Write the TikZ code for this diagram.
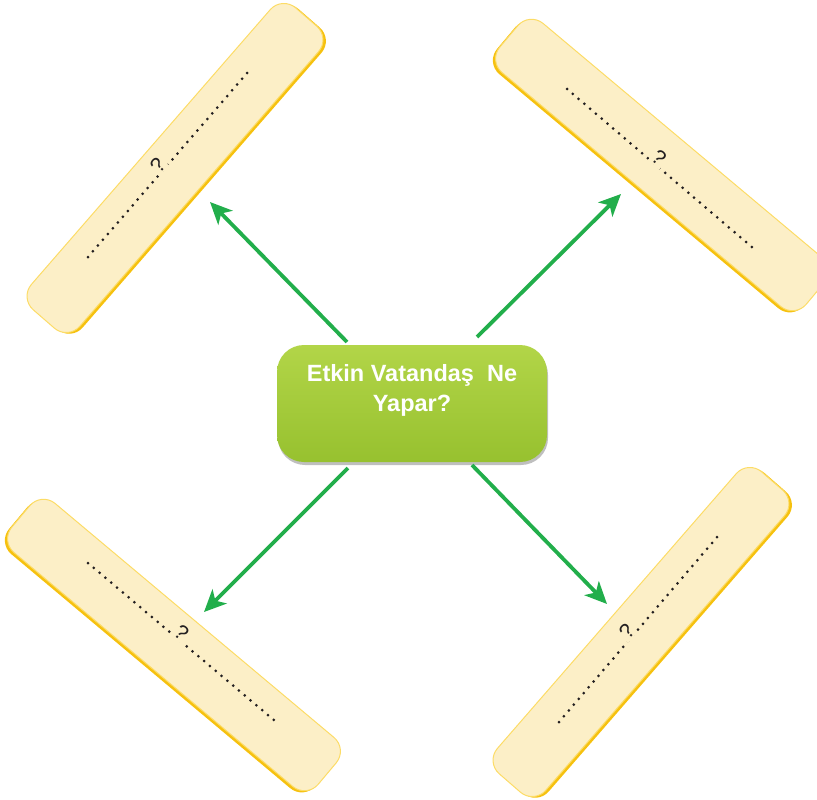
\documentclass[tikz,border=0pt]{standalone}
\usepackage{fontspec}
\setmainfont{Liberation Sans}
\usetikzlibrary{arrows.meta,calc}
\definecolor{cream}{HTML}{FCEFC7}
\definecolor{rimlight}{HTML}{FCDC66}
\definecolor{rimdark}{HTML}{F6C10F}
\definecolor{greentop}{HTML}{B2D548}
\definecolor{greenbot}{HTML}{97C12F}
\definecolor{arrowgreen}{HTML}{22AE4B}
\definecolor{dotcol}{HTML}{231F20}
\tikzset{
  stickshadow/.style={rectangle, minimum width=400pt, minimum height=64pt, rounded corners=18pt, fill=rimdark, inner sep=0pt},
  stick/.style={rectangle, minimum width=400pt, minimum height=64pt, rounded corners=18pt, fill=cream, draw=rimlight, line width=1pt, inner sep=0pt},
  greenbox/.style={rectangle, minimum width=270pt, minimum height=117pt, rounded corners=27pt, top color=greentop, bottom color=greenbot, inner sep=0pt},
  greenshadow/.style={rectangle, minimum width=270pt, minimum height=117pt, rounded corners=27pt, fill=black, opacity=0.25, inner sep=0pt},
  dotline/.style={draw=dotcol, line width=3pt, line cap=round, dash pattern=on 0pt off 7.6pt},
  qmark/.style={font=\fontsize{21}{24}\selectfont, text=dotcol, fill=cream, inner sep=1.5pt, anchor=base},
  arrowline/.style={draw=arrowgreen, line width=3.8pt, -{Stealth[length=22pt,width=20pt,inset=6pt]}},
  title/.style={font=\bfseries\fontsize{23.5}{30}\selectfont, text=white, align=center, inner sep=0pt, anchor=north}
}
\begin{document}
\begin{tikzpicture}[x=1pt,y=-1pt]
\useasboundingbox (0,0) rectangle (817,800);
% yellow sticks
\node[stickshadow, rotate=49, yshift=-3pt, xshift=1pt] (tls) at (175,168) {};
\node[stick, rotate=49] (tl) at (175,168) {};
\node[stickshadow, rotate=-40, yshift=-3pt, xshift=-1pt] (trs) at (662,165) {};
\node[stick, rotate=-40] (tr) at (662,165) {};
\node[stickshadow, rotate=-40, yshift=-3pt, xshift=-1pt] (bls) at (174,645) {};
\node[stick, rotate=-40] (bl) at (174,645) {};
\node[stickshadow, rotate=49, yshift=-3pt, xshift=1pt] (brs) at (641,632) {};
\node[stick, rotate=49] (br) at (641,632) {};
% dotted lines with question marks
\coordinate (d1a) at (88,257);  \coordinate (d1b) at (248,72);
\coordinate (d2a) at (567,89);  \coordinate (d2b) at (753,248);
\coordinate (d3a) at (88,563);  \coordinate (d3b) at (275,721);
\coordinate (d4a) at (559,722); \coordinate (d4b) at (718,536);
\draw[dotline] (d1a) -- (d1b);
\draw[dotline] (d2a) -- (d2b);
\draw[dotline] (d3a) -- (d3b);
\draw[dotline] (d4a) -- (d4b);
\node[qmark, rotate=49] (q1) at ($(d1a)!0.47!(d1b)$) {?};
\node[qmark, rotate=-40] (q2) at ($(d2a)!0.47!(d2b)$) {?};
\node[qmark, rotate=-40] (q3) at ($(d3a)!0.475!(d3b)$) {?};
\node[qmark, rotate=49] (q4) at ($(d4a)!0.46!(d4b)$) {?};
% central box
\node[greenshadow, xshift=1pt, yshift=-3pt] (cs) at (412,403.5) {};
\node[greenbox] (c) at (412,403.5) {};
\node[title] (t) at (412,364.6) {Etkin Vatandaş\ \ Ne\\Yapar?};
% arrows
\coordinate (s1) at (347,342); \coordinate (e1) at (210,202);
\coordinate (s2) at (477,337); \coordinate (e2) at (621,194);
\coordinate (s3) at (348,468); \coordinate (e3) at (204,612);
\coordinate (s4) at (472,465); \coordinate (e4) at (607,604);
\draw[arrowline] (s1) -- (e1);
\draw[arrowline] (s2) -- (e2);
\draw[arrowline] (s3) -- (e3);
\draw[arrowline] (s4) -- (e4);
\end{tikzpicture}
\end{document}
